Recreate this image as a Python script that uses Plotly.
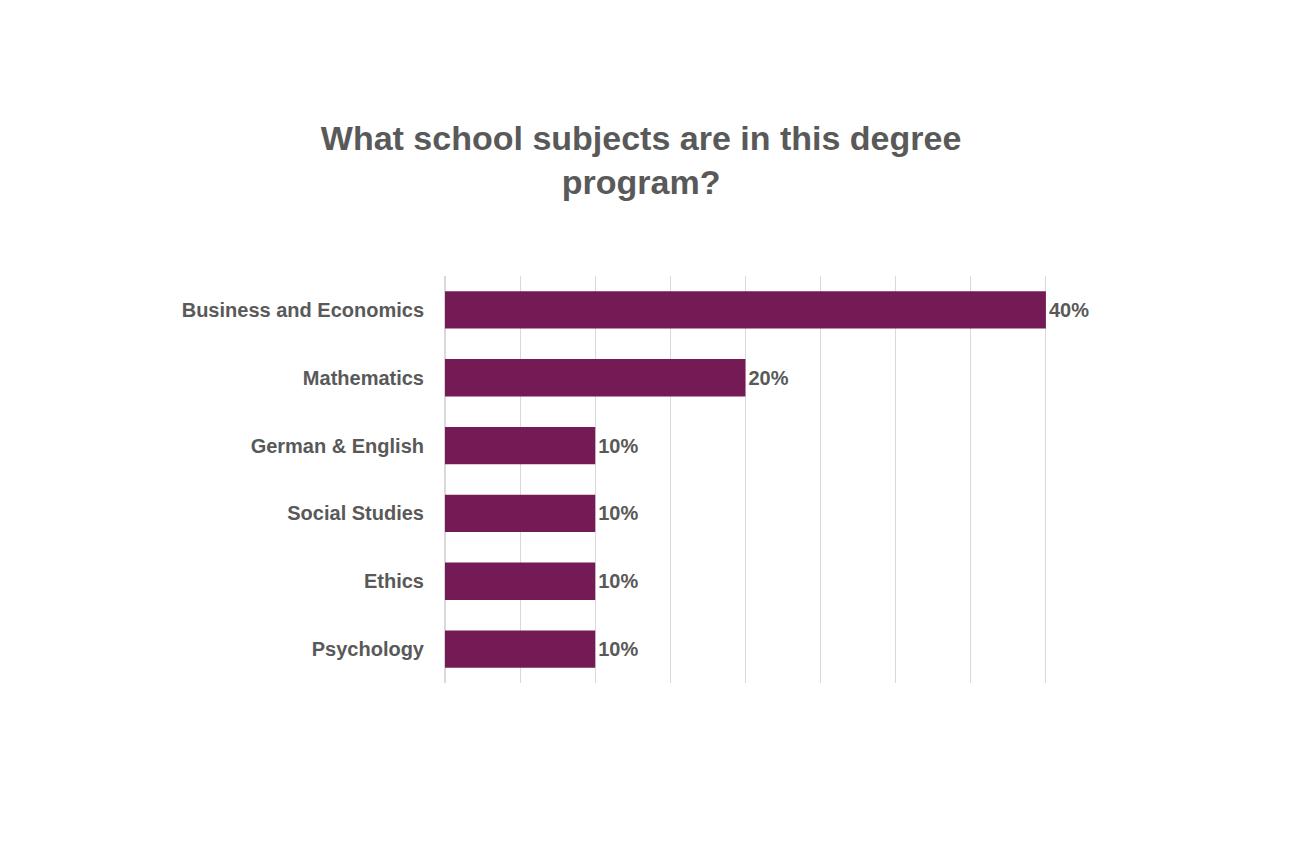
import plotly.graph_objects as go

categories = ["Business and Economics", "Mathematics", "German & English", "Social Studies", "Ethics", "Psychology"]
values = [40, 20, 10, 10, 10, 10]
labels = [f"{v}%" for v in values]

fig = go.Figure(go.Bar(
    x=values, y=categories, orientation="h",
    marker=dict(color="#741b56", line=dict(width=0)),
    width=0.55,
    text=labels, textposition="outside", cliponaxis=False,
    textfont=dict(family="Liberation Sans", size=20, color="#595959"),
))
fig.update_layout(
    width=1292, height=861,
    paper_bgcolor="white", plot_bgcolor="white",
    margin=dict(l=437, r=179, t=268, b=186),
    title=dict(text="<b>What school subjects are in this degree<br>program?</b>",
               x=0.49, xanchor="center", y=0.835, yanchor="middle",
               font=dict(family="Liberation Sans", size=34, color="#595959")),
    showlegend=False,
    font=dict(family="Liberation Sans", color="#595959"),
)
fig.update_xaxes(range=[0, 45], dtick=5, showticklabels=False, showgrid=True,
                 gridcolor="#d9d9d9", gridwidth=1, zeroline=True, zerolinecolor="#d9d9d9", showline=False)
fig.update_yaxes(autorange="reversed", categoryorder="array", categoryarray=categories,
                 ticklabelstandoff=20, showline=False,
                 tickfont=dict(family="Liberation Sans", size=20, color="#595959"))
fig.update_yaxes(tickprefix="<b>", ticksuffix="</b>")
fig.update_traces(texttemplate="<b>%{text}</b>")
fig.write_html("out.html")
